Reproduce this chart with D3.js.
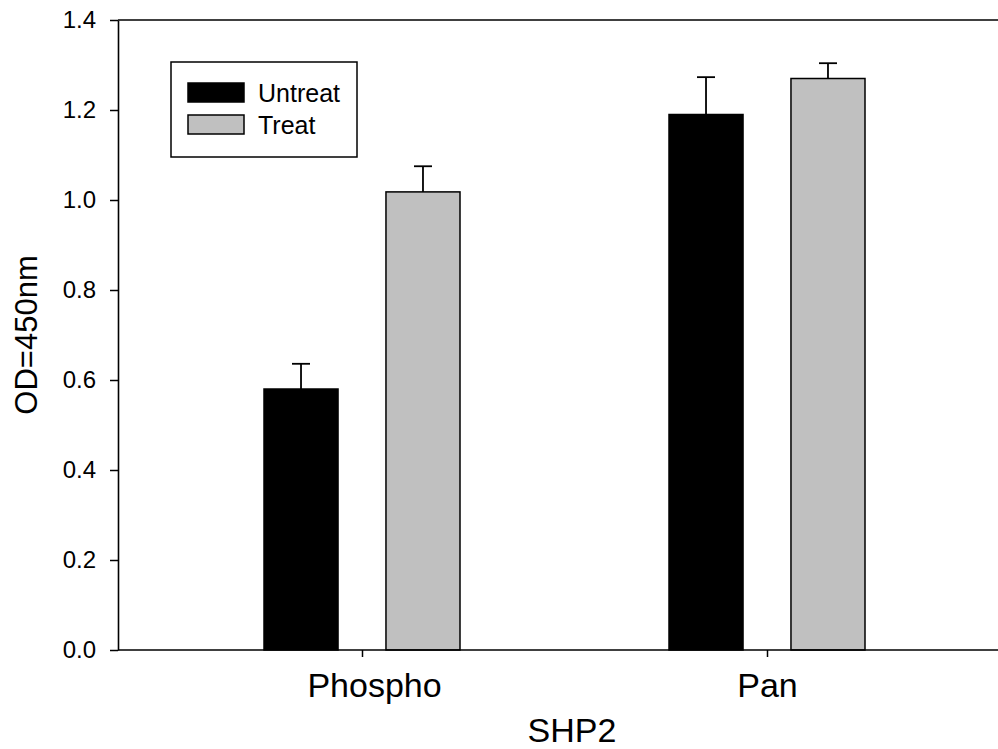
<!DOCTYPE html>
<html>
<head>
<meta charset="utf-8">
<script src="https://cdn.jsdelivr.net/npm/d3@7"></script>
<style>
  body { margin: 0; background: #fff; }
  text { font-family: "Liberation Sans", Arial, sans-serif; fill: #000; }
</style>
</head>
<body>
<div id="chart"></div>
<script>
// Data
const groups = ['Phospho', 'Pan'];
const seriesNames = ['Untreat', 'Treat'];
const untreatValues = [0.58, 1.19];
const untreatErrors = [0.056, 0.083];
const treatValues = [1.018, 1.27];
const treatErrors = [0.057, 0.034];
const yTicks = [0, 0.2, 0.4, 0.6, 0.8, 1.0, 1.2, 1.4];
const colors = { Untreat: '#000000', Treat: '#c0c0c0' };

const W = 998, H = 749;
const plotLeft = 118, plotRight = 998, plotTop = 20, plotBottom = 650;

const svg = d3.select('#chart').append('svg')
    .attr('width', W)
    .attr('height', H);

const x0 = d3.scalePoint()
    .domain(groups)
    .range([362, 767]);

const x1 = d3.scaleBand()
    .domain(seriesNames)
    .range([-98, 98])
    .paddingInner(0.393)
    .paddingOuter(0);

const y = d3.scaleLinear()
    .domain([0, 1.4])
    .range([plotBottom, plotTop]);

const rows = [];
groups.forEach((g, i) => {
    rows.push({ group: g, series: 'Untreat', value: untreatValues[i], err: untreatErrors[i] });
    rows.push({ group: g, series: 'Treat', value: treatValues[i], err: treatErrors[i] });
});

// error bars (upper only), drawn first so bars sit on top
const eb = svg.append('g')
    .attr('stroke', '#000')
    .attr('stroke-width', 1.8);
rows.forEach(d => {
    const cx = x0(d.group) + x1(d.series) + x1.bandwidth() / 2;
    eb.append('line')
        .attr('x1', cx).attr('x2', cx)
        .attr('y1', y(d.value)).attr('y2', y(d.value + d.err));
    eb.append('line')
        .attr('x1', cx - 9).attr('x2', cx + 9)
        .attr('y1', y(d.value + d.err)).attr('y2', y(d.value + d.err));
});

// bars
svg.append('g')
    .selectAll('rect')
    .data(rows)
    .enter().append('rect')
    .attr('x', d => x0(d.group) + x1(d.series))
    .attr('y', d => y(d.value))
    .attr('width', x1.bandwidth())
    .attr('height', d => y(0) - y(d.value))
    .attr('fill', d => colors[d.series])
    .attr('stroke', '#000')
    .attr('stroke-width', 1.5);

// y axis
const yAxis = svg.append('g')
    .attr('transform', `translate(${plotLeft},0)`)
    .call(d3.axisLeft(y).tickValues(yTicks).tickFormat(d3.format('.1f')).tickSize(8).tickPadding(14).tickSizeOuter(0));
yAxis.select('.domain').attr('stroke-width', 1.6);
yAxis.selectAll('.tick line').attr('stroke-width', 1.5);
yAxis.selectAll('.tick text')
    .style('font-size', '24px')
    .attr('font-family', null);

// x axis
const xAxis = svg.append('g')
    .attr('transform', `translate(0,${plotBottom})`)
    .call(d3.axisBottom(x0).tickSize(7).tickPadding(16).tickSizeOuter(0));
xAxis.select('.domain').attr('d', `M${plotLeft},0H${plotRight}`).attr('stroke-width', 1.6);
xAxis.selectAll('.tick line').attr('stroke-width', 1.5);
xAxis.selectAll('.tick text')
    .style('font-size', '34px')
    .attr('font-family', null)
    .attr('dx', (d, i) => i === 0 ? 12 : 0);

// top frame line
svg.append('line')
    .attr('x1', plotLeft).attr('x2', plotRight)
    .attr('y1', plotTop).attr('y2', plotTop)
    .attr('stroke', '#000')
    .attr('stroke-width', 1.6);

// axis titles
svg.append('text')
    .attr('x', 572)
    .attr('y', 742)
    .attr('text-anchor', 'middle')
    .style('font-size', '34px')
    .text('SHP2');

svg.append('text')
    .attr('transform', 'rotate(-90)')
    .attr('x', -335)
    .attr('y', 37)
    .attr('text-anchor', 'middle')
    .style('font-size', '31px')
    .text('OD=450nm');

// legend
const legend = svg.append('g');
legend.append('rect')
    .attr('x', 171).attr('y', 62)
    .attr('width', 186).attr('height', 95)
    .attr('fill', '#fff')
    .attr('stroke', '#000')
    .attr('stroke-width', 1.5);
seriesNames.forEach((s, i) => {
    legend.append('rect')
        .attr('x', 188).attr('y', 83 + i * 32)
        .attr('width', 56).attr('height', 19)
        .attr('fill', colors[s])
        .attr('stroke', '#000')
        .attr('stroke-width', 1.5);
    legend.append('text')
        .attr('x', 258).attr('y', 102 + i * 32)
        .style('font-size', '25px')
        .text(s);
});
</script>
</body>
</html>
